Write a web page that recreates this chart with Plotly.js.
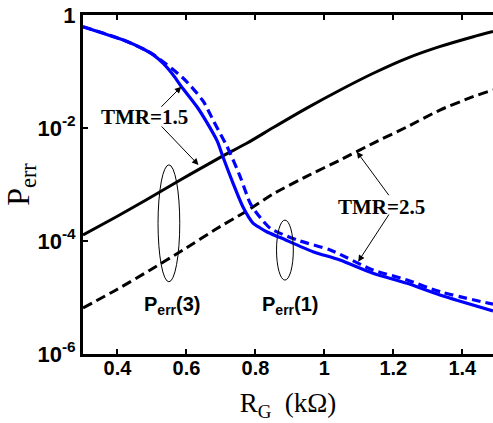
<!DOCTYPE html>
<html>
<head>
<meta charset="utf-8">
<script src="https://cdn.plot.ly/plotly-3.0.1.min.js"></script>
<style>html,body{margin:0;padding:0;background:#fff;}#chart{width:493px;height:423px;}</style>
</head>
<body>
<div id="chart"></div>
<script>
// Perr(3), TMR=1.5 (black solid)
const p3Tmr15X = [0.300, 0.397, 0.484, 0.582, 0.640, 0.707, 0.775, 0.852, 0.949, 1.046, 1.142, 1.239, 1.334, 1.432, 1.489];
const p3Tmr15Y = [1.28e-4, 2.69e-4, 5.37e-4, 1.20e-3, 1.91e-3, 3.24e-3, 5.36e-3, 1.02e-2, 2.25e-2, 4.71e-2, 9.31e-2, 0.171, 0.275, 0.413, 0.51];
// Perr(3), TMR=2.5 (black dashed)
const p3Tmr25X = [0.300, 0.396, 0.495, 0.590, 0.686, 0.770, 0.851, 0.950, 1.046, 1.141, 1.240, 1.335, 1.431, 1.489];
const p3Tmr25Y = [6.52e-6, 1.36e-5, 3.07e-5, 6.93e-5, 1.63e-4, 3.26e-4, 6.79e-4, 1.41e-3, 2.72e-3, 5.36e-3, 1.05e-2, 2.08e-2, 3.58e-2, 4.71e-2];
// Perr(1), TMR=1.5 (blue solid)
const p1Tmr15X = [0.300, 0.358, 0.417, 0.475, 0.505, 0.532, 0.560, 0.582, 0.631, 0.660, 0.689, 0.706, 0.735, 0.764, 0.793, 0.814, 0.834, 0.872, 0.967, 1.045, 1.141, 1.240, 1.335, 1.489];
const p1Tmr15Y = [0.621, 0.474, 0.361, 0.250, 0.195, 0.140, 8.9e-2, 5.77e-2, 2.35e-2, 1.23e-2, 5.9e-3, 3.07e-3, 1.06e-3, 4.00e-4, 2.08e-4, 1.70e-4, 1.44e-4, 1.15e-4, 6.47e-5, 4.61e-5, 2.68e-5, 1.78e-5, 1.11e-5, 5.8e-6];
// Perr(1), TMR=2.5 (blue dashed)
const p1Tmr25X = [0.300, 0.417, 0.495, 0.590, 0.648, 0.680, 0.718, 0.756, 0.785, 0.808, 0.843, 0.921, 1.017, 1.141, 1.240, 1.335, 1.489];
const p1Tmr25Y = [0.621, 0.361, 0.215, 7.67e-2, 3.01e-2, 1.28e-2, 4.67e-3, 1.37e-3, 4.64e-4, 2.88e-4, 1.68e-4, 1.04e-4, 6.93e-5, 3.07e-5, 2.04e-5, 1.27e-5, 7.6e-6];

const xTickVals = [0.4, 0.6, 0.8, 1.0, 1.2, 1.4];
const xTickText = ['0.4', '0.6', '0.8', '1', '1.2', '1.4'];
const yTickVals = [1, 1e-2, 1e-4, 1e-6];
const yTickText = ['1', '10<sup>-2</sup>', '10<sup>-4</sup>', '10<sup>-6</sup>'];

const labelTmr15 = 'TMR=1.5';
const labelTmr25 = 'TMR=2.5';
const labelP3 = 'P<sub>err</sub>(3)';
const labelP1 = 'P<sub>err</sub>(1)';

const traces = [
  {x: p3Tmr15X, y: p3Tmr15Y, mode: 'lines', line: {color: '#000', width: 3, shape: 'spline', smoothing: 0.6}},
  {x: p3Tmr25X, y: p3Tmr25Y, mode: 'lines', line: {color: '#000', width: 3, dash: '10px,5px', shape: 'spline', smoothing: 0.6}},
  {x: p1Tmr15X, y: p1Tmr15Y, mode: 'lines', line: {color: '#0000ff', width: 3.2, shape: 'spline', smoothing: 0.7}},
  {x: p1Tmr25X, y: p1Tmr25Y, mode: 'lines', line: {color: '#0000ff', width: 3.2, dash: '9px,5px', shape: 'spline', smoothing: 0.7}}
];

const serif = 'Liberation Serif, Times New Roman, serif';
const sans = 'Liberation Sans, Arial, sans-serif';

const arrowCommon = {xref: 'x', yref: 'y', axref: 'x', ayref: 'y', text: '', showarrow: true,
  arrowhead: 2, arrowsize: 1.3, arrowwidth: 1, arrowcolor: '#000'};

const layout = {
  width: 493, height: 423,
  margin: {l: 83, r: 0, t: 15, b: 69, pad: 0},
  paper_bgcolor: '#fff', plot_bgcolor: '#fff',
  showlegend: false,
  xaxis: {
    range: [0.3, 1.489], tickvals: xTickVals, ticktext: xTickText,
    ticks: 'inside', ticklen: 5, tickwidth: 2, tickcolor: '#000',
    showline: true, linewidth: 3, linecolor: '#000', mirror: 'ticks',
    showgrid: false, zeroline: false, ticklabelstandoff: -6,
    tickfont: {family: sans, size: 20, color: '#000', weight: 'bold'},
    title: {text: 'R<sub>G</sub>  (kΩ)', font: {family: serif, size: 27, color: '#000'}, standoff: 16}
  },
  yaxis: {
    type: 'log', range: [-6, 0], tickvals: yTickVals, ticktext: yTickText,
    ticks: 'inside', ticklen: 5, tickwidth: 2, tickcolor: '#000',
    showline: true, linewidth: 3, linecolor: '#000', mirror: false,
    showgrid: false, zeroline: false,
    tickfont: {family: sans, size: 22, color: '#000', weight: 'bold'},
    title: {text: 'P<sub>err</sub>', font: {family: serif, size: 32, color: '#000'}, standoff: 0}
  },
  shapes: [
    {type: 'circle', xref: 'paper', yref: 'paper', x0: 0.183, x1: 0.236, y0: 0.213, y1: 0.558, line: {color: '#000', width: 1}},
    {type: 'circle', xref: 'paper', yref: 'paper', x0: 0.472, x1: 0.513, y0: 0.218, y1: 0.395, line: {color: '#000', width: 1}}
  ],
  annotations: [
    Object.assign({}, arrowCommon, {x: 0.585, y: -1.269, ax: 0.523, ay: -1.651}),
    Object.assign({}, arrowCommon, {x: 0.635, y: -2.655, ax: 0.524, ay: -1.947}),
    Object.assign({}, arrowCommon, {x: 1.094, y: -2.419, ax: 1.190, ay: -3.216}),
    Object.assign({}, arrowCommon, {x: 1.098, y: -4.366, ax: 1.190, ay: -3.504}),
    {xref: 'x', yref: 'y', x: 0.479, y: -1.805, text: labelTmr15, showarrow: false,
      font: {family: serif, size: 21, color: '#000', weight: 'bold'}},
    {xref: 'x', yref: 'y', x: 1.166, y: -3.393, text: labelTmr25, showarrow: false,
      font: {family: serif, size: 21, color: '#000', weight: 'bold'}},
    {xref: 'x', yref: 'y', x: 0.557, y: -5.15, text: labelP3, showarrow: false,
      font: {family: sans, size: 20, color: '#000', weight: 'bold'}},
    {xref: 'x', yref: 'y', x: 0.900, y: -5.15, text: labelP1, showarrow: false,
      font: {family: sans, size: 20, color: '#000', weight: 'bold'}}
  ]
};

Plotly.newPlot('chart', traces, layout, {displayModeBar: false, staticPlot: true});
</script>
</body>
</html>
